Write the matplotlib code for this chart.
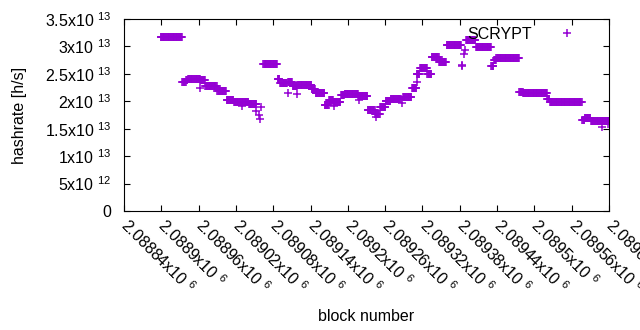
import numpy as np
import matplotlib
matplotlib.use('Agg')
import matplotlib.pyplot as plt

# runs of constant hashrate (first block, last block, value in 1e12 h/s)
run_start = [2088899, 2088934, 2088940, 2088943, 2088950, 2088963, 2088971, 2088990,
             2089005, 2089017, 2089041, 2089064, 2089087, 2089091, 2089104, 2089111,
             2089119, 2089142, 2089148, 2089163, 2089170, 2089177, 2089189, 2089195,
             2089217, 2089232, 2089244, 2089252, 2089261, 2089269, 2089289, 2089303,
             2089311, 2089316, 2089328, 2089335, 2089347, 2089359, 2089390, 2089406,
             2089431, 2089435, 2089439, 2089476, 2089482, 2089509, 2089521, 2089525,
             2089577, 2089581, 2089591]
run_end = [2088933, 2088939, 2088942, 2088949, 2088962, 2088970, 2088989, 2089004,
           2089016, 2089040, 2089053, 2089086, 2089090, 2089102, 2089110, 2089118,
           2089141, 2089147, 2089162, 2089169, 2089176, 2089188, 2089194, 2089216,
           2089231, 2089243, 2089251, 2089260, 2089268, 2089285, 2089302, 2089310,
           2089315, 2089327, 2089334, 2089346, 2089358, 2089382, 2089405, 2089430,
           2089434, 2089438, 2089475, 2089481, 2089508, 2089520, 2089524, 2089576,
           2089580, 2089590, 2089620]
run_value = [31.67, 23.46, 23.8, 24.15, 24.0, 23.8, 22.8, 21.8,
             20.2, 19.9, 19.45, 26.74, 24.0, 23.4, 23.6, 22.7,
             22.9, 22.2, 21.45, 19.3, 20.3, 19.9, 21.1, 21.3,
             20.9, 18.4, 17.7, 18.9, 20.05, 20.35, 20.7, 22.5,
             25.0, 26.1, 24.9, 28.0, 27.1, 30.2, 31.1, 29.95,
             26.5, 27.5, 27.8, 21.7, 21.6, 21.45, 20.35, 19.8,
             16.6, 17.0, 16.4]

# single blocks off the runs
lone_block = [2088963, 2089030, 2089053, 2089057, 2089059, 2089061, 2089103, 2089118,
              2089178, 2089218, 2089246, 2089287, 2089306, 2089312, 2089383, 2089384,
              2089387, 2089388, 2089608, 2089618]
lone_value = [22.5, 19.1, 18.3, 17.5, 16.8, 18.9, 21.45, 21.3,
              19.1, 20.2, 17.2, 19.75, 22.4, 23.6, 26.7, 26.4,
              28.7, 29.3, 15.4, 15.9]

xtick_blocks = [2088840, 2088900, 2088960, 2089020, 2089080, 2089140, 2089200,
                2089260, 2089320, 2089380, 2089440, 2089500, 2089560, 2089620]
xtick_labels = ['2.08884', '2.0889', '2.08896', '2.08902', '2.08908', '2.08914', '2.0892',
                '2.08926', '2.08932', '2.08938', '2.08944', '2.0895', '2.08956', '2.08962']
ytick_vals = [0, 5e12, 1e13, 1.5e13, 2e13, 2.5e13, 3e13, 3.5e13]
ytick_labels = ['0', '5x10 $^{12}$', '1x10 $^{13}$', '1.5x10 $^{13}$', '2x10 $^{13}$',
                '2.5x10 $^{13}$', '3x10 $^{13}$', '3.5x10 $^{13}$']

plt.rcParams['font.family'] = ['Liberation Sans', 'DejaVu Sans']
plt.rcParams['font.size'] = 11.5
plt.rcParams['mathtext.fontset'] = 'custom'
plt.rcParams['mathtext.rm'] = 'Liberation Sans'
plt.rcParams['mathtext.it'] = 'Liberation Sans:italic'
plt.rcParams['mathtext.default'] = 'rm'

blocks = np.concatenate([np.arange(s, e + 1) for s, e in zip(run_start, run_end)] + [lone_block])
values = np.concatenate([np.full(e - s + 1, v) for s, e, v in zip(run_start, run_end, run_value)]
                        + [lone_value]) * 1e12

fig = plt.figure(figsize=(6.4, 3.3), dpi=100)
ax = fig.add_axes([124 / 640, 1 - 211 / 330, 485 / 640, 192 / 330])

ax.plot(blocks, values, linestyle='none', marker='+', ms=5.6, mew=1.1,
        color='#9400d3', label='SCRYPT')

ax.set_xlim(2088840, 2089620)
ax.set_ylim(0, 3.5e13)
ax.set_xticks(xtick_blocks)
ax.set_xticklabels([m + 'x10 $^{6}$' for m in xtick_labels], rotation=-45,
                   ha='left', va='center', rotation_mode='anchor')
ax.set_yticks(ytick_vals)
ax.set_yticklabels(ytick_labels)
ax.tick_params(direction='in', top=True, right=True, length=4, width=0.8)
ax.tick_params(axis='x', pad=8)
ax.tick_params(axis='y', pad=9)
for sp in ax.spines.values():
    sp.set_linewidth(0.8)

ax.set_xlabel('block number')
ax.set_ylabel('hashrate [h/s]')
ax.xaxis.set_label_coords(0.5, -0.51)
ax.yaxis.set_label_coords(-0.2, 0.5)

ax.legend(loc='upper right', bbox_to_anchor=(0.972, 1.027), frameon=False,
          markerfirst=False, handlelength=2.0, handletextpad=1.2, borderpad=0.3)

fig.savefig('out.png', dpi=100)
